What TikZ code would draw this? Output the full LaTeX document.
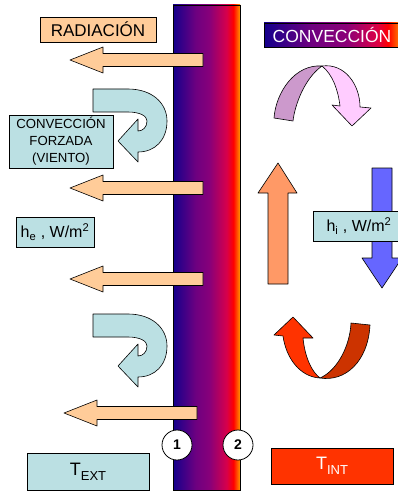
\documentclass[tikz,border=0pt]{standalone}
\usepackage{fontspec}
\setmainfont{Liberation Sans}
\definecolor{peach}{RGB}{255,204,153}
\definecolor{cyanbox}{RGB}{187,224,227}
\definecolor{uporange}{RGB}{255,153,102}
\definecolor{downblue}{RGB}{102,102,255}
\definecolor{pinkdark}{RGB}{204,153,204}
\definecolor{pinklight}{RGB}{255,204,255}
\definecolor{redbright}{RGB}{255,51,0}
\definecolor{reddark}{RGB}{204,51,0}
\pgfdeclarehorizontalshading{wallshade}{100bp}{
  color(0bp)=(rgb,255:red,20;green,0;blue,140);
  color(25bp)=(rgb,255:red,20;green,0;blue,140);
  color(42bp)=(rgb,255:red,110;green,0;blue,128);
  color(52bp)=(rgb,255:red,135;green,0;blue,122);
  color(65bp)=(rgb,255:red,215;green,0;blue,75);
  color(70bp)=(rgb,255:red,255;green,0;blue,0);
  color(75bp)=(rgb,255:red,255;green,150;blue,0);
  color(100bp)=(rgb,255:red,255;green,150;blue,0)}
\pgfdeclarehorizontalshading{convshade}{100bp}{
  color(0bp)=(rgb,255:red,20;green,0;blue,140);
  color(25bp)=(rgb,255:red,20;green,0;blue,140);
  color(42bp)=(rgb,255:red,110;green,0;blue,128);
  color(55bp)=(rgb,255:red,140;green,0;blue,120);
  color(66bp)=(rgb,255:red,220;green,0;blue,70);
  color(70bp)=(rgb,255:red,255;green,0;blue,0);
  color(75bp)=(rgb,255:red,255;green,150;blue,0);
  color(100bp)=(rgb,255:red,255;green,150;blue,0)}
\begin{document}
\begin{tikzpicture}[x=1pt,y=-1pt,
  box/.style={draw=black, line width=0.6pt, inner sep=0pt, align=center},
  shapeline/.style={draw=black, line width=0.6pt, line join=round},
  numcirc/.style={circle, draw=black, fill=white, line width=0.8pt, minimum size=30pt, inner sep=0pt, font=\fontsize{14}{14}\selectfont\bfseries}]
\useasboundingbox (0,0) rectangle (398,492);
% wall
\shade[shading=wallshade] (173,5) rectangle (240,490);
\draw[line width=0.6pt] (173,5) rectangle (240,490);
% peach arrows
\foreach \c/\t/\e in {60/70/203, 188/70/203, 279/70/203, 413/64/197}{
  \filldraw[shapeline, fill=peach] (\e,\c-6.5) -- (\t+33,\c-6.5) -- (\t+33,\c-13) -- (\t,\c) -- (\t+33,\c+13) -- (\t+33,\c+6.5) -- (\e,\c+6.5) -- cycle;
}
% cyan U-turn arrows
\foreach \dy in {0,225}{
  \begin{scope}[yshift=-\dy pt]
  \filldraw[shapeline, fill=cyanbox] (93,89) -- (128,89) .. controls (152,89) and (167,103) .. (167,121) .. controls (167,140) and (155,152) .. (138,152) -- (138,162) -- (118,141) -- (138,119) -- (138,131) .. controls (143,131) and (147,127) .. (147,121) .. controls (147,116) and (140,112) .. (128,112) -- (93,112) -- cycle;
  \end{scope}
}
% boxes left
\node[box, fill=peach, minimum width=116pt, minimum height=25pt, font=\fontsize{17}{17}\selectfont] (rad) at (98,29.5) {RADIACIÓN};
\node[box, fill=cyanbox, minimum width=104pt, minimum height=53pt, font=\fontsize{13.2}{17}\selectfont] (forz) at (61,141.5) {CONVECCIÓN\\FORZADA\\(VIENTO)};
\node[box, fill=cyanbox, minimum width=78pt, minimum height=30pt, font=\fontsize{16}{16}\selectfont] (he) at (55,232) {h\textsubscript{e} , W/m\textsuperscript{2}};
\node[box, fill=cyanbox, minimum width=122pt, minimum height=37pt, font=\fontsize{18}{18}\selectfont] (text) at (88,471.5) {T\raisebox{-5pt}{\fontsize{13}{13}\selectfont EXT}};
% right: convection box
\shade[shading=convshade] (264,23) rectangle (402,47);
\draw[line width=0.6pt] (264,23) rectangle (402,47);
\node[text=white, font=\fontsize{17.5}{17.5}\selectfont, inner sep=0pt] (conv) at (332,35) {CONVECCIÓN};
% pink curved arrow
\filldraw[shapeline, fill=pinkdark] (322,66) .. controls (295,64) and (276,92) .. (274,118) -- (293,121) .. controls (295,104) and (305,78) .. (322,66) -- cycle;
\filldraw[shapeline, fill=pinklight] (322,66) .. controls (345,63) and (360,85) .. (360,107) -- (371,108) -- (352,126) -- (332,105) -- (340,106) .. controls (338,90) and (333,75) .. (322,66) -- cycle;
% up arrow
\filldraw[shapeline, fill=uporange] (268,284) -- (268,193) -- (258,193) -- (278,163) -- (297,193) -- (288,193) -- (288,284) -- cycle;
% down arrow
\filldraw[shapeline, fill=downblue] (372,168) -- (372,258) -- (362,258) -- (382,288) -- (402,258) -- (392,258) -- (392,168) -- cycle;
\node[box, fill=cyanbox, minimum width=92pt, minimum height=30pt, font=\fontsize{16}{16}\selectfont] (hi) at (359,226) {h\textsubscript{i} , W/m\textsuperscript{2}};
% red curved arrow
\filldraw[shapeline, fill=reddark] (320,378) .. controls (345,382) and (368,362) .. (370,325) -- (351,323) .. controls (350,345) and (338,370) .. (320,378) -- cycle;
\filldraw[shapeline, fill=redbright] (293,317) -- (313,338) -- (303,338) .. controls (305,358) and (312,372) .. (320,378) .. controls (300,377) and (286,358) .. (283,336) -- (274,335) -- cycle;
% T_INT
\node[box, fill=redbright, text=white, minimum width=122pt, minimum height=36pt, font=\fontsize{18}{18}\selectfont] (tint) at (332,466) {T\raisebox{-5pt}{\fontsize{13}{13}\selectfont INT}};
% circles
\node[numcirc] (c1) at (177,445) {1};
\node[numcirc] (c2) at (238,445) {2};
\end{tikzpicture}
\end{document}
